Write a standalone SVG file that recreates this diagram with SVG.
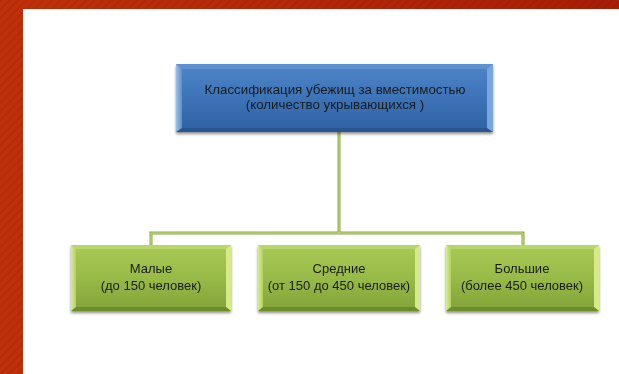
<svg xmlns="http://www.w3.org/2000/svg" width="619" height="374" viewBox="0 0 619 374">
<defs>
<linearGradient id="redg" x1="0" y1="0" x2="1" y2="0">
<stop offset="0" stop-color="#c0300a"/>
<stop offset="1" stop-color="#a81e06"/>
</linearGradient>
<pattern id="stripes" width="6" height="6" patternUnits="userSpaceOnUse" patternTransform="rotate(45)">
<rect width="6" height="6" fill="none"/>
<rect width="2" height="6" fill="#000" opacity="0.07"/>
</pattern>
<linearGradient id="blueg" x1="0" y1="0" x2="0" y2="1">
<stop offset="0" stop-color="#4f85c6"/>
<stop offset="0.5" stop-color="#3c73b8"/>
<stop offset="1" stop-color="#2f61a2"/>
</linearGradient>
<linearGradient id="greeng" x1="0" y1="0" x2="0" y2="1">
<stop offset="0" stop-color="#a9ca55"/>
<stop offset="0.5" stop-color="#98ba47"/>
<stop offset="1" stop-color="#82a338"/>
</linearGradient>
<linearGradient id="gedgeL" x1="0" y1="0" x2="1" y2="0">
<stop offset="0" stop-color="#d8ec92"/>
<stop offset="1" stop-color="#b2d064"/>
</linearGradient>
<linearGradient id="bedgeL" x1="0" y1="0" x2="1" y2="0">
<stop offset="0" stop-color="#9cc0ea"/>
<stop offset="1" stop-color="#5b8fcc"/>
</linearGradient>
<filter id="sh" x="-10%" y="-10%" width="120%" height="130%">
<feGaussianBlur in="SourceAlpha" stdDeviation="1.5"/>
<feOffset dx="0" dy="2" result="b"/>
<feComponentTransfer><feFuncA type="linear" slope="0.45"/></feComponentTransfer>
<feMerge><feMergeNode/><feMergeNode in="SourceGraphic"/></feMerge>
</filter>
</defs>
<style>
.t{font-family:"Liberation Sans",Arial,sans-serif;fill:#1b1b1b;text-anchor:middle}
.tb{font-size:13.3px}
.tg{font-size:13px}
.conn{fill:none;stroke:#8aab43;stroke-width:3}
.conn2{fill:none;stroke:#c8de8a;stroke-width:1}
</style>
<rect width="619" height="374" fill="#ffffff"/>
<g id="frame">
<path d="M0 0H619V9H23V374H0Z" fill="url(#redg)"/>
<path d="M0 0H619V9H23V374H0Z" fill="url(#stripes)"/>
</g>
<g id="connectors">
<path class="conn" d="M339 132V233M151 245V233H523V245"/>
<path class="conn2" d="M339 132V233M151 245V233H523V245"/>
</g>
<g id="root" filter="url(#sh)">
<rect x="176" y="64" width="317" height="68" fill="url(#blueg)"/>
<path d="M176 64h6v68h-6z" fill="url(#bedgeL)"/>
<path d="M487 64h6v68h-6z" fill="#7aa6dc"/>
<path d="M176 64h317l-6 5h-305z" fill="#5d91cf"/>
<path d="M176 132h317l-6-4h-305z" fill="#285590"/>
<text class="t tb" x="335" y="94">Классификация убежищ за вместимостью</text>
<text class="t tb" x="335" y="109">(количество укрывающихся )</text>
</g>
<g id="small" filter="url(#sh)">
<rect x="71" y="245" width="160" height="66" fill="url(#greeng)"/>
<path d="M71 245h5v66h-5z" fill="url(#gedgeL)"/>
<path d="M226 245h5v66h-5z" fill="#d6ea8c"/>
<path d="M71 245h160l-5 4h-150z" fill="#b9d66a"/>
<path d="M71 311h160l-5-4h-150z" fill="#6d8c2c"/>
<text class="t tg" x="151" y="273">Малые</text>
<text class="t tg" x="151" y="290">(до 150 человек)</text>
</g>
<g id="medium" filter="url(#sh)">
<rect x="258" y="245" width="162" height="66" fill="url(#greeng)"/>
<path d="M258 245h5v66h-5z" fill="url(#gedgeL)"/>
<path d="M415 245h5v66h-5z" fill="#d6ea8c"/>
<path d="M258 245h162l-5 4h-152z" fill="#b9d66a"/>
<path d="M258 311h162l-5-4h-152z" fill="#6d8c2c"/>
<text class="t tg" x="339" y="273">Средние</text>
<text class="t tg" x="339" y="290">(от 150 до 450 человек)</text>
</g>
<g id="large" filter="url(#sh)">
<rect x="446" y="245" width="153" height="66" fill="url(#greeng)"/>
<path d="M446 245h5v66h-5z" fill="url(#gedgeL)"/>
<path d="M594 245h5v66h-5z" fill="#d6ea8c"/>
<path d="M446 245h153l-5 4h-143z" fill="#b9d66a"/>
<path d="M446 311h153l-5-4h-143z" fill="#6d8c2c"/>
<text class="t tg" x="522" y="273">Большие</text>
<text class="t tg" x="522" y="290">(более 450 человек)</text>
</g>
</svg>
